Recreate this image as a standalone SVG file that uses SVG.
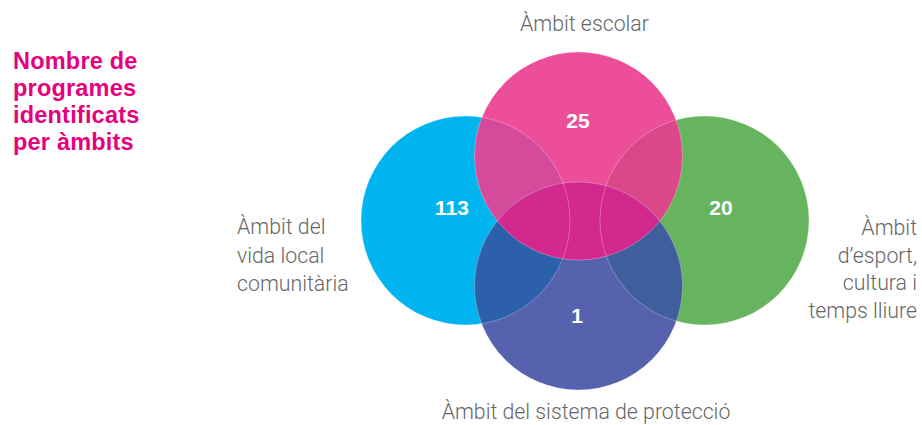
<svg xmlns="http://www.w3.org/2000/svg" width="922" height="425" viewBox="0 0 922 425">
<style>
.title{font-family:"Liberation Sans",Arial,sans-serif;font-weight:bold;font-size:23.5px;letter-spacing:0.2px;fill:#e6007e}
.lbl{font-family:Roboto,"Liberation Sans",sans-serif;font-weight:300;font-size:21.3px;fill:#666666}
.num{font-family:"Liberation Sans",Arial,sans-serif;font-weight:bold;font-size:21px;fill:#ffffff;text-anchor:middle}
.edge{fill:none;stroke:#ffffff;stroke-opacity:0.35;stroke-width:0.8}
</style>
<defs>
<circle id="cB" cx="465.5" cy="220.5" r="104.5"/>
<circle id="cP" cx="578.5" cy="156" r="104"/>
<circle id="cG" cx="704.5" cy="220.5" r="104.5"/>
<circle id="cU" cx="578.5" cy="286" r="104"/>
<clipPath id="clipB"><use href="#cB"/></clipPath>
<clipPath id="clipG"><use href="#cG"/></clipPath>
<clipPath id="clipU"><use href="#cU"/></clipPath>
</defs>
<g id="title">
<text class="title" x="13" y="69">Nombre de</text>
<text class="title" x="13" y="96">programes</text>
<text class="title" x="13" y="123">identificats</text>
<text class="title" x="13" y="150">per àmbits</text>
</g>
<g id="node-vida-local">
<use href="#cB" fill="#00b5ef"/>
</g>
<g id="node-esport">
<use href="#cG" fill="#66b55e"/>
</g>
<g id="node-proteccio">
<use href="#cU" fill="#5662ae"/>
</g>
<g id="node-escolar">
<use href="#cP" fill="#ec4e9a"/>
</g>
<g id="overlaps">
<use href="#cP" fill="#d34b9a" clip-path="url(#clipB)"/>
<use href="#cP" fill="#da4889" clip-path="url(#clipG)"/>
<use href="#cB" fill="#2d60ab" clip-path="url(#clipU)"/>
<use href="#cG" fill="#3e5f9b" clip-path="url(#clipU)"/>
<use href="#cP" fill="#d3288e" clip-path="url(#clipU)"/>
</g>
<g id="edges">
<use href="#cB" class="edge"/>
<use href="#cG" class="edge"/>
<use href="#cU" class="edge"/>
<use href="#cP" class="edge"/>
</g>
<g id="numbers">
<text class="num" x="578" y="128">25</text>
<text class="num" x="452" y="215">113</text>
<text class="num" x="721" y="215">20</text>
<text class="num" x="577" y="323">1</text>
</g>
<g id="labels">
<text class="lbl" x="584.5" y="31" text-anchor="middle">Àmbit escolar</text>
<text class="lbl" x="237" y="234">Àmbit del</text>
<text class="lbl" x="237" y="263">vida local</text>
<text class="lbl" x="237" y="291">comunitària</text>
<text class="lbl" x="917" y="235" text-anchor="end">Àmbit</text>
<text class="lbl" x="917" y="263" text-anchor="end">d’esport,</text>
<text class="lbl" x="917" y="290" text-anchor="end">cultura i</text>
<text class="lbl" x="917" y="318" text-anchor="end">temps lliure</text>
<text class="lbl" x="586" y="419" text-anchor="middle">Àmbit del sistema de protecció</text>
</g>
</svg>
